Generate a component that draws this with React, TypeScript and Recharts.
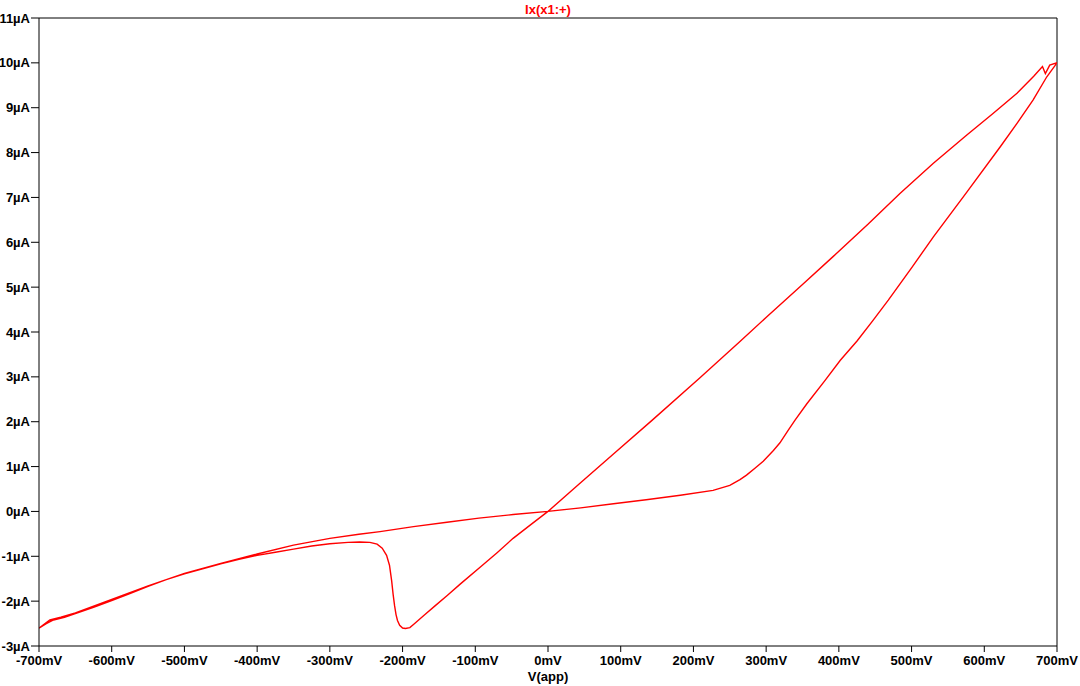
import React, { FC } from 'react';
import { LineChart, Line, XAxis, YAxis, ReferenceLine } from 'recharts';

// sweep from -700mV up to +700mV (through the reduction dip)
const forwardV = [-700, -690, -680, -665, -650, -625, -600, -575, -550, -525, -500, -475, -450, -425, -400, -375, -350, -325, -300, -275, -259, -245, -235, -228, -222, -218, -215, -213, -211, -209, -207, -204, -200, -196, -190, -185, -170, -155, -139, -120, -93, -70, -48, -25, 0, 44, 90, 143, 209, 264, 301, 350, 392, 440, 484, 530, 576, 612, 645, 668, 680, 684, 690, 700];
const forwardI = [-2.6, -2.5, -2.42, -2.36, -2.28, -2.14, -1.99, -1.83, -1.67, -1.52, -1.39, -1.28, -1.17, -1.07, -0.98, -0.91, -0.84, -0.77, -0.72, -0.69, -0.68, -0.69, -0.73, -0.82, -0.98, -1.2, -1.55, -1.85, -2.1, -2.3, -2.43, -2.54, -2.6, -2.61, -2.59, -2.52, -2.31, -2.1, -1.88, -1.61, -1.24, -0.92, -0.6, -0.31, 0, 0.63, 1.28, 2.03, 2.98, 3.79, 4.34, 5.06, 5.68, 6.4, 7.09, 7.76, 8.39, 8.87, 9.32, 9.7, 9.92, 9.76, 9.95, 10.0];

// sweep back from +700mV down to -700mV
const reverseV = [700, 686, 667, 645, 622, 576, 530, 500, 468, 447, 425, 402, 380, 356, 340, 330, 319, 310, 296, 285, 273, 264, 250, 227, 182, 135, 90, 45, 0, -48, -95, -139, -185, -231, -260, -300, -350, -400, -450, -500, -550, -600, -650, -670, -685, -700];
const reverseI = [10.0, 9.69, 9.17, 8.65, 8.13, 7.12, 6.12, 5.43, 4.71, 4.26, 3.8, 3.37, 2.9, 2.4, 2.04, 1.8, 1.53, 1.36, 1.12, 0.97, 0.81, 0.71, 0.58, 0.47, 0.36, 0.26, 0.17, 0.08, 0, -0.07, -0.15, -0.24, -0.34, -0.45, -0.51, -0.6, -0.75, -0.95, -1.16, -1.38, -1.66, -1.96, -2.26, -2.36, -2.42, -2.6];

const xTicks = [-700, -600, -500, -400, -300, -200, -100, 0, 100, 200, 300, 400, 500, 600, 700];
const yTicks = [-3, -2, -1, 0, 1, 2, 3, 4, 5, 6, 7, 8, 9, 10, 11];

const data = [
  ...forwardV.map((v, k) => ({ v, i: forwardI[k] })),
  ...reverseV.map((v, k) => ({ v, i: reverseI[k] })),
];

const font = '"Liberation Sans", Arial, sans-serif';
const tickStyle = { fill: '#000', fontSize: 13, fontWeight: 'bold', fontFamily: font };

const App: FC = () => {
  return (
    <div style={{ width: 1080, height: 686, background: '#fff' }}>
      <style>{'body{margin:0}'}</style>
      <LineChart
        width={1080}
        height={686}
        data={data}
        margin={{ top: 18, right: 23, bottom: 0, left: 0 }}
      >
        <text
          x={548}
          y={14}
          textAnchor="middle"
          fill="#ff0000"
          style={{ fontSize: 13, fontWeight: 'bold', fontFamily: font }}
        >
          Ix(x1:+)
        </text>
        <XAxis
          dataKey="v"
          type="number"
          domain={[-700, 700]}
          ticks={xTicks}
          allowDataOverflow
          tickFormatter={(v) => `${v}mV`}
          tick={tickStyle}
          tickSize={6}
          tickMargin={4}
          height={40}
          axisLine={{ stroke: '#000' }}
          tickLine={{ stroke: '#000' }}
          label={{ value: 'V(app)', position: 'insideBottom', offset: 5, fill: '#000', fontSize: 13, fontWeight: 'bold', fontFamily: font }}
        />
        <YAxis
          type="number"
          domain={[-3, 11]}
          ticks={yTicks}
          allowDataOverflow
          tickFormatter={(v) => `${v}µA`}
          tick={tickStyle}
          tickSize={8}
          tickMargin={1}
          width={39}
          axisLine={{ stroke: '#000' }}
          tickLine={{ stroke: '#000' }}
        />
        <ReferenceLine y={11} stroke="#000" />
        <ReferenceLine x={700} stroke="#000" />
        <Line
          type="linear"
          dataKey="i"
          stroke="#ff0000"
          strokeWidth={1.4}
          dot={false}
          isAnimationActive={false}
        />
      </LineChart>
    </div>
  );
};

export default App;
